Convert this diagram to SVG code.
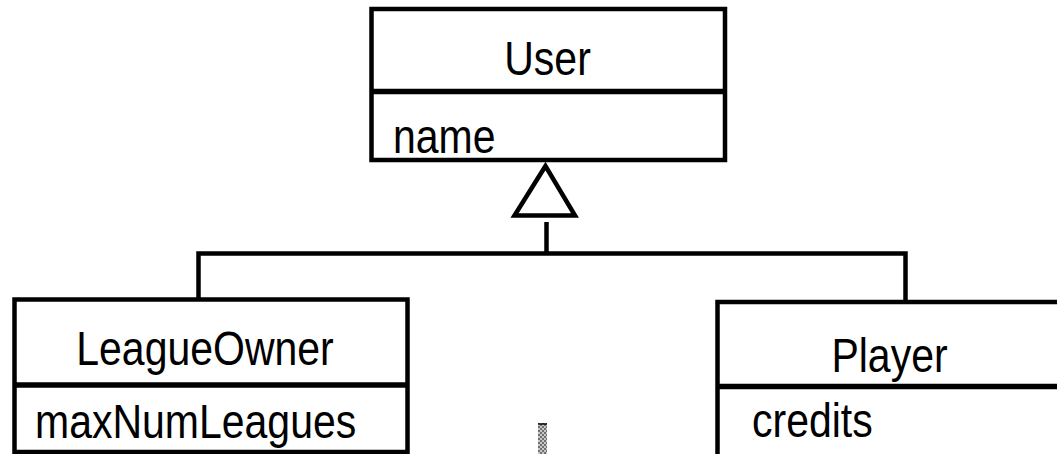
<svg xmlns="http://www.w3.org/2000/svg" width="1057" height="454" viewBox="0 0 1057 454">
<style>
.box{fill:#fff;stroke:#000;stroke-width:4.5}
.div{stroke:#000;stroke-width:5.5}
.ln{fill:none;stroke:#000;stroke-width:4.5}
.t{font-family:"Liberation Sans",Arial,sans-serif;font-size:41px;fill:#000}
.c{text-anchor:middle}
</style>
<defs>
<pattern id="chk" width="4" height="4" patternUnits="userSpaceOnUse">
<rect width="4" height="4" fill="#c8c8c8"/>
<rect width="2" height="2" fill="#707070"/>
<rect x="2" y="2" width="2" height="2" fill="#707070"/>
</pattern>
</defs>
<g id="connectors">
<polyline class="ln" points="198.5,300 198.5,253.5 905.5,253.5 905.5,302"/>
<line class="ln" x1="546.5" y1="222" x2="546.5" y2="253.5"/>
<polygon class="ln" points="545.5,166 514.5,215.5 575,215.5" stroke-linejoin="miter"/>
</g>
<g id="User">
<rect class="box" x="371.5" y="9" width="353.5" height="151"/>
<line class="div" x1="371.5" y1="91.5" x2="725" y2="91.5"/>
<text class="t c" transform="translate(547.5,75) scale(1,1.15)">User</text>
<text class="t" transform="translate(393,153) scale(1,1.15)">name</text>
</g>
<g id="LeagueOwner">
<rect class="box" x="14.5" y="299.5" width="393" height="152.5"/>
<line class="div" x1="14.5" y1="385" x2="407.5" y2="385"/>
<text class="t c" transform="translate(205,365) scale(1,1.15)">LeagueOwner</text>
<text class="t" transform="translate(35,438) scale(1,1.15)">maxNumLeagues</text>
</g>
<g id="Player">
<rect class="box" x="717.5" y="302" width="360" height="170"/>
<line class="div" x1="717.5" y1="386.5" x2="1060" y2="386.5"/>
<text class="t c" transform="translate(889.5,372) scale(1,1.15)">Player</text>
<text class="t" transform="translate(752,437) scale(1,1.15)">credits</text>
</g>
<g id="artifact">
<rect x="538" y="423" width="9" height="31" fill="url(#chk)"/>
<rect x="538" y="423" width="9" height="2" fill="#000" opacity="0.7"/>
</g>
</svg>
